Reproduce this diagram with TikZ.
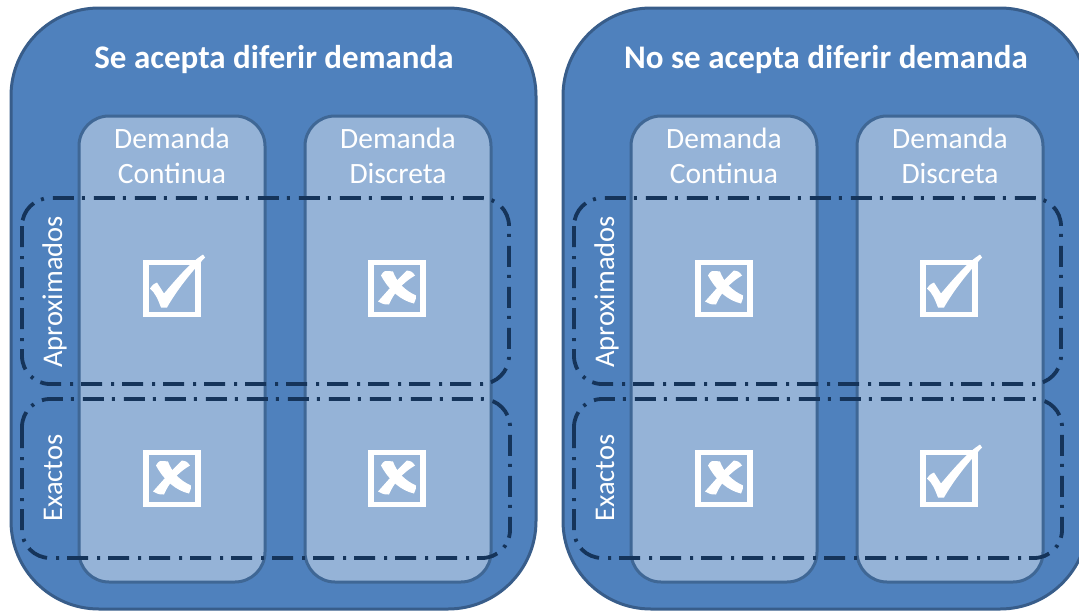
\documentclass[tikz,border=0pt]{standalone}
\usepackage{fontspec}
\setmainfont{Carlito}
\definecolor{panelfill}{HTML}{4F81BD}
\definecolor{panelline}{HTML}{385D8A}
\definecolor{colfill}{HTML}{95B3D7}
\definecolor{colline}{HTML}{3F6795}
\definecolor{dashline}{HTML}{15345A}
\tikzset{
  panel/.style={fill=panelfill, draw=panelline, line width=3pt, rounded corners=88pt},
  colbox/.style={fill=colfill, draw=colline, line width=3pt, rounded corners=30pt},
  groupbox/.style={draw=dashline, line width=3.8pt, rounded corners=28pt,
     dash pattern=on 21pt off 9pt on 3pt off 8pt},
  titletxt/.style={text=white, font=\fontsize{33}{38}\selectfont\bfseries, anchor=base, inner sep=0pt},
  coltxt/.style={text=white, font=\fontsize{29.5}{34}\selectfont, anchor=base, inner sep=0pt},
  rowtxt/.style={text=white, font=\fontsize{28.5}{34}\selectfont, anchor=base, inner sep=0pt, rotate=90},
  iconbox/.style={draw=white, line width=5.5pt},
}
\newcommand\IconCheck[1]{%
  \begin{scope}[shift={#1}]
    \draw[iconbox] (-26,-26) rectangle (26,26);
    \fill[white] (-22,0) .. controls (-19,-4) .. (-15,-6) .. controls (-11,-1) .. (-8,5)
      .. controls (8,-14) and (20,-27) .. (31,-34) -- (33,-31)
      .. controls (18,-15) and (4,3) .. (-5,19) -- (-11,19)
      .. controls (-14,11) and (-17,4) .. (-22,0) -- cycle;
  \end{scope}}
\newcommand\IconCross[1]{%
  \begin{scope}[shift={#1}]
    \draw[iconbox] (-26,-26) rectangle (26,26);
    \fill[white] (-16,-13) .. controls (-13,-18) .. (-4,-17)
      .. controls (0,-6) and (8,2) .. (19,7)
      .. controls (19,10) .. (17,15)
      .. controls (4,12) and (-8,2) .. (-16,-13) -- cycle;
    \fill[white] (10,-18) .. controls (15,-17) .. (18,-13)
      .. controls (6,-6) and (-3,4) .. (-8,16)
      .. controls (-13,16) .. (-19,13)
      .. controls (-10,3) and (1,-10) .. (10,-18) -- cycle;
  \end{scope}}
\begin{document}
\begin{tikzpicture}[x=1pt, y=-1pt]
\useasboundingbox (0,0) rectangle (1079,613);
\clip (0,0) rectangle (1079,613);
% ---------- left panel ----------
\draw[panel] (11,8) rectangle (536,609);
\node[titletxt] (t1) at (274,68) {Se acepta diferir demanda};
\draw[colbox] (79,116) rectangle (265,582);
\draw[colbox] (305,116) rectangle (491,582);
\node[coltxt] (l1a) at (172,148) {Demanda};
\node[coltxt] (l1b) at (172,183) {Continua};
\node[coltxt] (l2a) at (398,148) {Demanda};
\node[coltxt] (l2b) at (398,183) {Discreta};
\draw[groupbox] (22,198) rectangle (509,384);
\draw[groupbox] (22,399) rectangle (510,558);
\node[rowtxt] (r1) at (62,292) {Aproximados};
\node[rowtxt] (r2) at (62,478) {Exactos};
\IconCheck{(172,288.5)}
\IconCross{(397,288.5)}
\IconCross{(172,478.5)}
\IconCross{(397,478.5)}
% ---------- right panel ----------
\draw[panel] (563,8) rectangle (1088,609);
\node[titletxt] (t2) at (826,68) {No se acepta diferir demanda};
\draw[colbox] (631,116) rectangle (817,582);
\draw[colbox] (857,116) rectangle (1043,582);
\node[coltxt] (l3a) at (724,148) {Demanda};
\node[coltxt] (l3b) at (724,183) {Continua};
\node[coltxt] (l4a) at (950,148) {Demanda};
\node[coltxt] (l4b) at (950,183) {Discreta};
\draw[groupbox] (574,198) rectangle (1061,384);
\draw[groupbox] (574,399) rectangle (1062,558);
\node[rowtxt] (r3) at (614,292) {Aproximados};
\node[rowtxt] (r4) at (614,478) {Exactos};
\IconCross{(724,288.5)}
\IconCheck{(949,288.5)}
\IconCross{(724,478.5)}
\IconCheck{(949,478.5)}
\end{tikzpicture}
\end{document}
